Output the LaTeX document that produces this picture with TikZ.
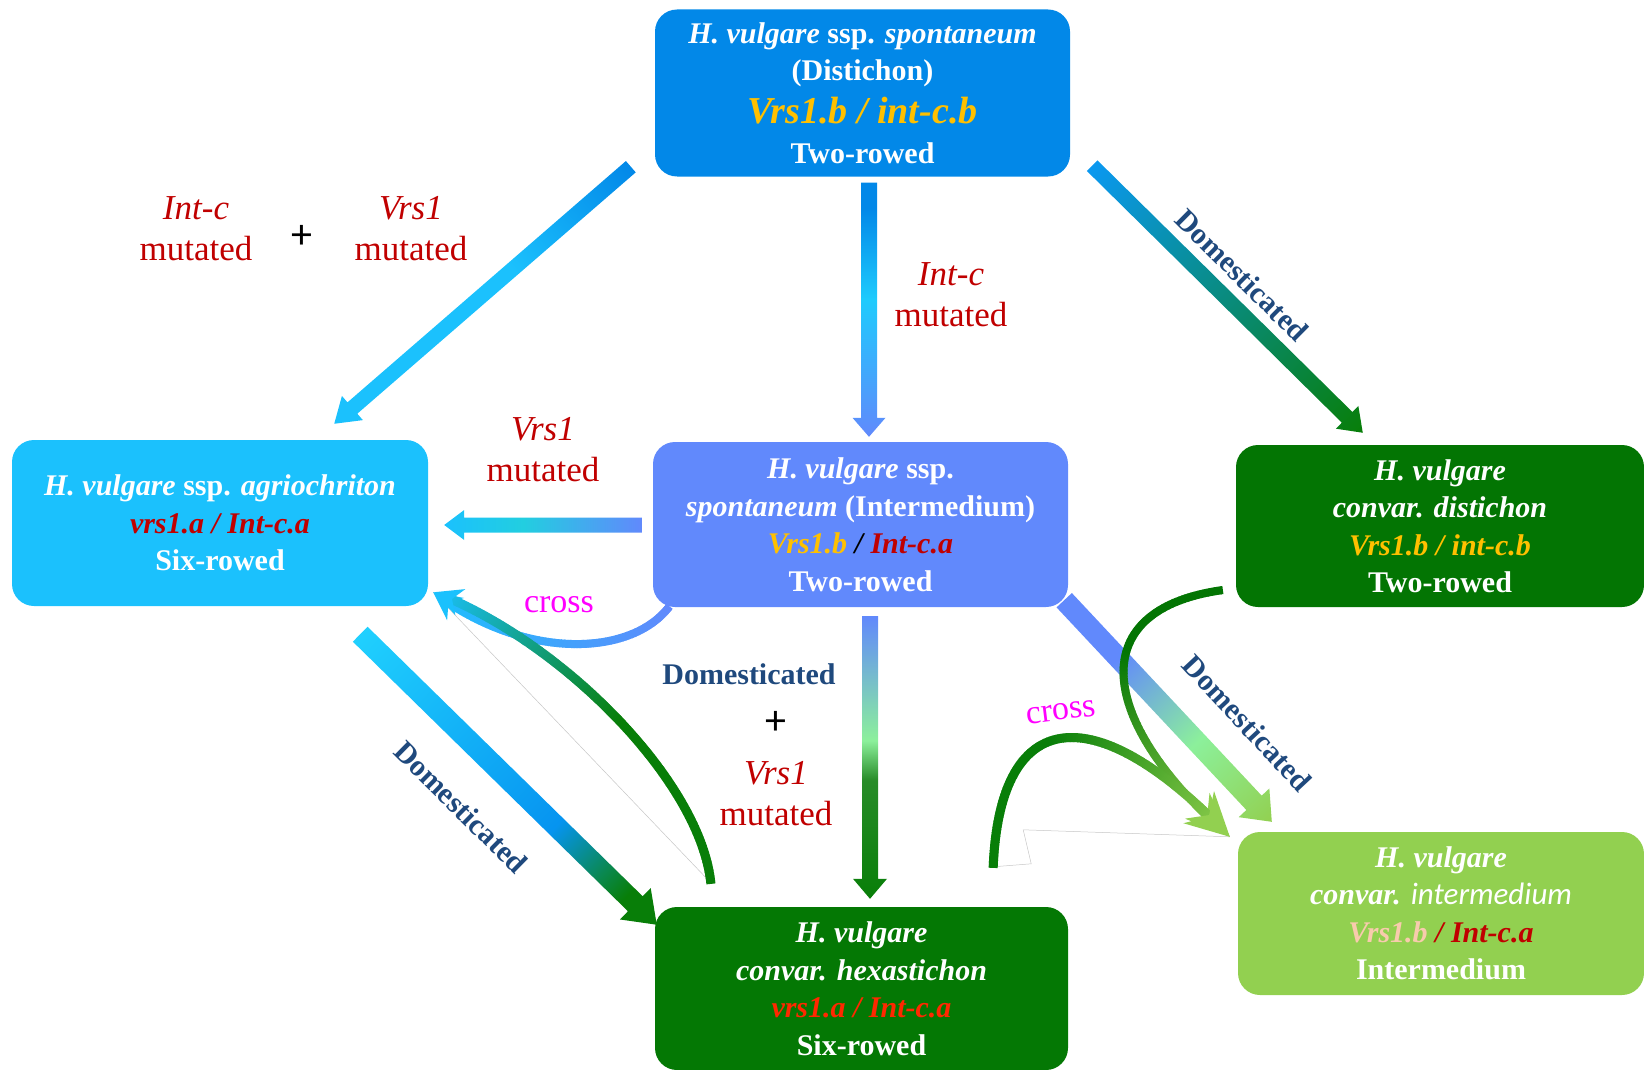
\documentclass[tikz,border=0pt]{standalone}
\usepackage{fontspec}
\setmainfont{Liberation Serif}
\newfontfamily\calibrifont{Carlito}
\usetikzlibrary{decorations.markings}

% palette
\definecolor{topblue}{RGB}{2,136,232}
\definecolor{skycyan}{RGB}{27,193,253}
\definecolor{brightcyan}{RGB}{30,203,253}
\definecolor{cornflower}{RGB}{97,137,252}
\definecolor{darkgreen}{RGB}{3,117,3}
\definecolor{boxgreen}{RGB}{4,120,4}
\definecolor{leafgreen}{RGB}{146,208,80}
\definecolor{gold}{RGB}{255,192,0}
\definecolor{darkred}{RGB}{192,0,0}
\definecolor{brightred}{RGB}{255,40,0}
\definecolor{peach}{RGB}{248,203,173}
\definecolor{navy}{RGB}{31,73,125}
\definecolor{magentapink}{RGB}{255,0,255}
\definecolor{mintgreen}{RGB}{140,240,155}
\definecolor{arrowgreen}{RGB}{8,126,8}
\definecolor{tealmid}{RGB}{34,206,224}
\definecolor{startblue}{RGB}{10,152,240}
\definecolor{paleblue}{RGB}{32,208,254}
\definecolor{midblue}{RGB}{6,148,240}
\definecolor{tealgreen}{RGB}{10,136,80}
\definecolor{softgreen}{RGB}{40,140,40}

% gradients along the straight arrows (25bp = tail, 75bp = tip)
\pgfdeclarehorizontalshading{shTopLeft}{100bp}{color(0bp)=(topblue); color(25bp)=(topblue); color(45bp)=(skycyan); color(100bp)=(skycyan)}
\pgfdeclarehorizontalshading{shTopMid}{100bp}{color(0bp)=(topblue); color(30bp)=(topblue); color(48bp)=(brightcyan); color(75bp)=(cornflower); color(100bp)=(cornflower)}
\pgfdeclarehorizontalshading{shTopRight}{100bp}{color(0bp)=(startblue); color(25bp)=(startblue); color(75bp)=(arrowgreen); color(100bp)=(arrowgreen)}
\pgfdeclarehorizontalshading{shMidLeft}{100bp}{color(0bp)=(cornflower); color(25bp)=(cornflower); color(55bp)=(tealmid); color(75bp)=(skycyan); color(100bp)=(skycyan)}
\pgfdeclarehorizontalshading{shMidDown}{100bp}{color(0bp)=(cornflower); color(25bp)=(cornflower); color(47bp)=(mintgreen); color(54bp)=(softgreen); color(75bp)=(arrowgreen); color(100bp)=(arrowgreen)}
\pgfdeclarehorizontalshading{shMidRight}{100bp}{color(0bp)=(cornflower); color(25bp)=(cornflower); color(38bp)=(cornflower); color(57bp)=(mintgreen); color(75bp)=(leafgreen); color(100bp)=(leafgreen)}
\pgfdeclarehorizontalshading{shLeftDown}{100bp}{color(0bp)=(paleblue); color(25bp)=(paleblue); color(58bp)=(midblue); color(66bp)=(tealgreen); color(70bp)=(arrowgreen); color(100bp)=(arrowgreen)}

% straight block arrow between two named coordinates
% #3 shading, #4 shaft width, #5 head width, #6 head length
\newcommand{\gradarrow}[6]{%
  \pgfpointanchor{#1}{center}\pgfgetlastxy{\gasx}{\gasy}%
  \pgfpointanchor{#2}{center}\pgfgetlastxy{\gaex}{\gaey}%
  \pgfmathsetmacro\gaang{atan2((\gaey)-(\gasy),(\gaex)-(\gasx))}%
  \pgfmathsetmacro\galen{veclen((\gaex)-(\gasx),(\gaey)-(\gasy))}%
  \begin{scope}[transform canvas={shift={(\gasx,\gasy)},rotate=\gaang},x=1pt,y=1pt]
    \shade[shading=#3] (0,-#4/2) -- (\galen-#6,-#4/2) -- (\galen-#6,-#5/2) -- (\galen,0)
      -- (\galen-#6,#5/2) -- (\galen-#6,#4/2) -- (0,#4/2) -- cycle;
  \end{scope}}

\newcommand{\boxfont}{\fontsize{30}{37.5}\selectfont\bfseries}

\tikzset{
  panel/.style={rounded corners=22pt, inner sep=0pt, text=white, align=center, font=\boxfont},
  mutlabel/.style={text=darkred, align=center, font=\fontsize{35}{41}\selectfont},
  pluslabel/.style={text=black, font=\calibrifont\fontsize{42}{42}\selectfont},
  domlabel/.style={text=navy, font=\fontsize{30}{30}\selectfont\bfseries},
  crosslabel/.style={text=magentapink, font=\fontsize{34}{34}\selectfont},
  artifact/.style={draw=gray!45, line width=0.5pt},
  % curved stroke: colour #1 to #2, width #3, stopping #4pt before the end,
  % colour held at #1 over the first fraction #5 of the length
  gradstroke/.style n args={5}{decorate, decoration={markings,
    mark=between positions 0 and 1 step 1.5pt with {%
      \pgfmathsetmacro\gsd{(\pgfkeysvalueof{/pgf/decoration/mark info/sequence number}-1)*1.5}%
      \pgfmathsetmacro\gsleft{\pgfdecoratedpathlength-\gsd}%
      \pgfmathsetmacro\gsfrac{min(100,max(0,(\gsd/\pgfdecoratedpathlength-#5)/(1-#5)*100))}%
      \ifdim\gsleft pt>#4pt\relax
        \draw[line width=#3, color=#2!\gsfrac!#1] (-1.1pt,0pt) -- (1.1pt,0pt);%
      \fi}}},
  % notched head at the end of a curve: colour, length, half width, inset
  gradhead/.style n args={4}{decorate, decoration={markings,
    mark=at position 0.9999 with {%
      \fill[#1] (0pt,0pt) -- (-#2pt,#3pt) -- (-#2pt+#4pt,0pt) -- (-#2pt,-#3pt) -- cycle;}}},
}

\begin{document}
\begin{tikzpicture}[x=1pt,y=-1pt]
\useasboundingbox (0,0) rectangle (1644,1070);

% ---- panels ----
\node[panel, fill=topblue, minimum width=415pt, minimum height=167pt] (top) at (862.5,93)
  {\textit{H. vulgare} ssp. \textit{spontaneum}\\ (Distichon)\\[5pt]
   {\fontsize{38}{44}\selectfont\itshape\color{gold}Vrs1.b / int-c.b}\\[3pt] Two-rowed};
\node[panel, fill=skycyan, minimum width=416pt, minimum height=166pt] (agr) at (220,523)
  {\textit{H. vulgare} ssp. \textit{agriochriton}\\ \textcolor{darkred}{\textit{vrs1.a / Int-c.a}}\\ Six-rowed};
\node[panel, fill=cornflower, minimum width=415pt, minimum height=165pt] (mid) at (860.5,524.5)
  {\textit{H. vulgare} ssp.\\ \textit{spontaneum} (Intermedium)\\
   \textit{\textcolor{gold}{Vrs1.b} \textcolor{black}{/} \textcolor{darkred}{Int-c.a}}\\ Two-rowed};
\node[panel, fill=darkgreen, minimum width=408pt, minimum height=162pt] (dist) at (1440,526)
  {\textit{H. vulgare}\\ \textit{convar. distichon}\\ \textcolor{gold}{\textit{Vrs1.b / int-c.b}}\\ Two-rowed};
\node[panel, fill=leafgreen, minimum width=406pt, minimum height=163pt] (inter) at (1441,913.5)
  {\textit{H. vulgare}\\ \textit{convar.} {\calibrifont\mdseries\itshape\fontsize{31}{37.5}\selectfont intermedium}\\
   \textit{\textcolor{peach}{Vrs1.b} \textcolor{darkred}{/ Int-c.a}}\\ Intermedium};
\node[panel, fill=boxgreen, minimum width=413pt, minimum height=163pt] (hexa) at (861.5,988.5)
  {\textit{H. vulgare}\\ \textit{convar. hexastichon}\\ \textcolor{brightred}{\textit{vrs1.a / Int-c.a}}\\ Six-rowed};

% ---- arrow ends ----
\coordinate (a1s) at ([shift={(-24,-10)}]top.south west);
\coordinate (a1e) at ([shift={(-94,-16)}]agr.north east);
\coordinate (a2s) at ([shift={(6.5,6)}]top.south);
\coordinate (a2e) at ([shift={(8.5,-5)}]mid.north);
\coordinate (a3s) at ([shift={(22,-11)}]top.south east);
\coordinate (a3e) at ([shift={(127,-12)}]dist.north west);
\coordinate (a4s) at ([shift={(-11,0.5)}]mid.west);
\coordinate (a4e) at ([shift={(16,2)}]agr.east);
\coordinate (a5s) at ([shift={(9.5,9)}]mid.south);
\coordinate (a5e) at ([shift={(8.5,-8)}]hexa.north);
\coordinate (a6s) at ([shift={(-4,-7)}]mid.south east);
\coordinate (a6e) at ([shift={(34,-10)}]inter.north west);
\coordinate (a7s) at ([shift={(-68,28)}]agr.south east);
\coordinate (a7e) at ([shift={(2,18)}]hexa.north west);

\coordinate (c8s) at ([shift={(16,0)}]mid.south west);
\coordinate (c8e) at ([shift={(5,-14)}]agr.south east);
\coordinate (c9s) at ([shift={(56,-24)}]hexa.north west);
\coordinate (c9e) at ([shift={(6,-14)}]agr.south east);
\coordinate (c10s) at ([shift={(-14,-17)}]dist.south west);
\coordinate (c10e) at ([shift={(-8,5)}]inter.north west);
\coordinate (c11s) at ([shift={(-75,-40)}]hexa.north east);

% ---- faint guide lines ----
\draw[artifact] (c8e) -- (c9s);
\draw[artifact] (c11s) -- ++(38,-3) -- ++(-8,-34) -- (c10e);

% ---- straight arrows ----
\gradarrow{a1s}{a1e}{shTopLeft}{15}{32}{24}
\gradarrow{a2s}{a2e}{shTopMid}{16}{33}{19}
\gradarrow{a3s}{a3e}{shTopRight}{15}{32}{22}
\gradarrow{a4s}{a4e}{shMidLeft}{15}{30}{20}
\gradarrow{a5s}{a5e}{shMidDown}{16}{34}{20}
\gradarrow{a6s}{a6e}{shMidRight}{21}{42}{26}
\gradarrow{a7s}{a7e}{shLeftDown}{21}{44}{30}

% ---- curved arrows ----
\path[gradstroke={cornflower}{skycyan}{8pt}{20}{0}] (c8s) .. controls +(-39,50) and +(90,68) .. (c8e);
\path[gradhead={skycyan}{28}{14}{9}] (c8s) .. controls +(-39,50) and +(90,68) .. (c8e);
\path[gradstroke={arrowgreen}{skycyan}{9pt}{20}{0.45}] (c9s) .. controls +(-11,-103) and +(126,48) .. (c9e);
\path[gradhead={skycyan}{28}{14}{9}] (c9s) .. controls +(-11,-103) and +(126,48) .. (c9e);
\path[gradstroke={darkgreen}{leafgreen}{8pt}{32}{0.35}] (c10s) .. controls +(-142,20) and +(-130,-112) .. (c10e);
\path[gradhead={leafgreen}{44}{20}{14}] (c10s) .. controls +(-142,20) and +(-130,-112) .. (c10e);
\path[gradstroke={arrowgreen}{leafgreen}{9pt}{32}{0.4}] (c11s) .. controls +(7,-167) and +(-130,-137) .. (c10e);
\path[gradhead={leafgreen}{44}{20}{14}] (c11s) .. controls +(7,-167) and +(-130,-137) .. (c10e);

% ---- labels ----
\node[mutlabel] (l1) at (196,229) {\textit{Int-c}\\mutated};
\node[pluslabel] (p1) at (302,237) {+};
\node[mutlabel] (l2) at (411,229) {\textit{Vrs1}\\mutated};
\node[mutlabel] (l3) at (951,295) {\textit{Int-c}\\mutated};
\node[mutlabel] (l4) at (543,450) {\textit{Vrs1}\\mutated};
\node[domlabel] (d1) at (749,674) {Domesticated};
\node[pluslabel] (p2) at (776,723) {+};
\node[mutlabel] (l5) at (776,794) {\textit{Vrs1}\\mutated};
\node[crosslabel] (x1) at (559,605) {cross};
\node[crosslabel, rotate=7] (x2) at (1061,712) {cross};
\node[domlabel, rotate=-44.7] (d2) at (1242,275) {Domesticated};
\node[domlabel, rotate=-44.5] (d3) at (461,807) {Domesticated};
\node[domlabel, rotate=-47] (d4) at (1247,723) {Domesticated};
\end{tikzpicture}
\end{document}
